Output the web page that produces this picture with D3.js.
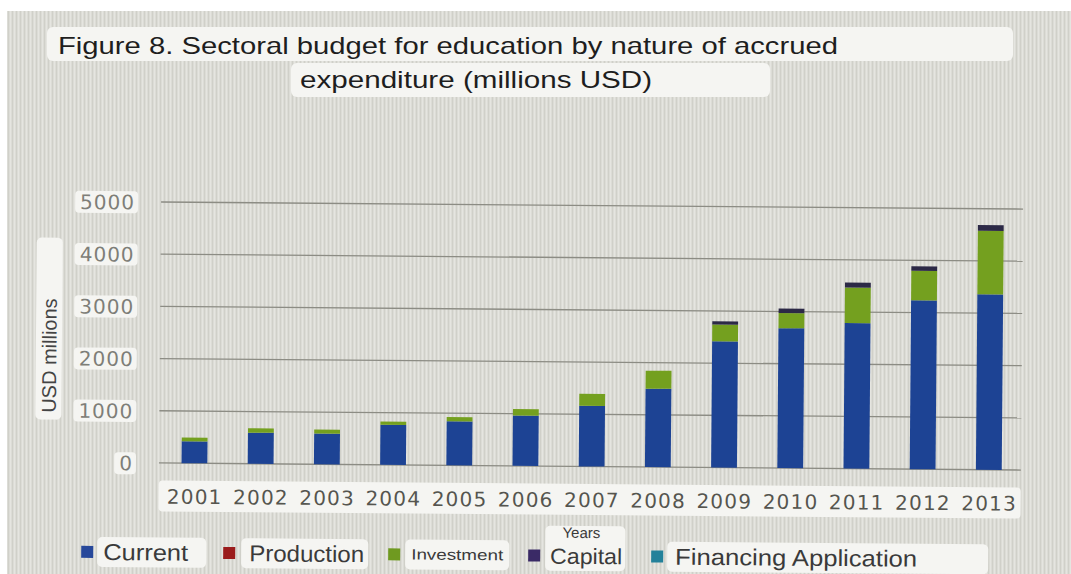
<!DOCTYPE html>
<html>
<head>
<meta charset="utf-8">
<script src="https://cdn.jsdelivr.net/npm/d3@7"></script>
<style>
  html, body { margin: 0; padding: 0; background: #ffffff; }
  svg { display: block; }
</style>
</head>
<body>
<svg id="chart" width="1071" height="574"></svg>
<script>
// Sectoral education budget by nature of accrued expenditure, USD millions
const years = ["2001","2002","2003","2004","2005","2006","2007","2008","2009","2010","2011","2012","2013"];
const current    = [420, 595, 590, 765, 845, 965, 1160, 1500, 2420, 2680, 2790, 3235, 3360];
const production = [0, 0, 0, 0, 0, 0, 0, 0, 0, 0, 0, 0, 0];
const investment = [70, 85, 75, 65, 80, 125, 230, 345, 320, 290, 680, 565, 1215];
const capital    = [0, 0, 0, 0, 0, 0, 0, 0, 60, 85, 95, 85, 110];
const financing  = [0, 0, 0, 0, 0, 0, 0, 0, 0, 0, 0, 0, 0];
const seriesNames = ["Current", "Production", "Investment", "Capital", "Financing Application"];
const yTicks = [0, 1000, 2000, 3000, 4000, 5000];
const titleLines = ["Figure 8. Sectoral budget for education by nature of accrued", "expenditure (millions USD)"];

const barColors = {
  "Current": "#1d4394",
  "Production": "#9c1d1f",
  "Investment": "#74a01f",
  "Capital": "#2c2946",
  "Financing Application": "#25839b"
};
const keyColors = {
  "Current": "#27489a",
  "Production": "#9b1c1c",
  "Investment": "#6f9a20",
  "Capital": "#3a2a66",
  "Financing Application": "#23819a"
};

const rows = years.map((yr, i) => ({
  year: yr,
  "Current": current[i],
  "Production": production[i],
  "Investment": investment[i],
  "Capital": capital[i],
  "Financing Application": financing[i]
}));

const svg = d3.select("#chart");
const boxFill = "#f5f5f2";

// screen-like backdrop with fine vertical striping
const defs = svg.append("defs");
const pat = defs.append("pattern").attr("id", "stripes")
  .attr("patternUnits", "userSpaceOnUse").attr("width", 4).attr("height", 10);
pat.append("rect").attr("x", 0).attr("y", 0).attr("width", 1).attr("height", 10)
  .attr("fill", "#b9b9b1").attr("opacity", 0.35);
pat.append("rect").attr("x", 2).attr("y", 0).attr("width", 1).attr("height", 10)
  .attr("fill", "#ffffff").attr("opacity", 0.25);

svg.append("rect").attr("x", 7).attr("y", 11).attr("width", 1064).attr("height", 563).attr("fill", "#dcdcd6");
svg.append("rect").attr("x", 7).attr("y", 11).attr("width", 1064).attr("height", 563).attr("fill", "url(#stripes)");

// title, each line on its own light box
const titleG = svg.append("g");
titleG.append("rect").attr("x", 47).attr("y", 27).attr("width", 966).attr("height", 34).attr("rx", 6).attr("fill", boxFill);
titleG.append("rect").attr("x", 291).attr("y", 63).attr("width", 479).attr("height", 34).attr("rx", 6).attr("fill", boxFill);
titleG.append("text").attr("x", 58).attr("y", 53.5).text(titleLines[0])
  .attr("font-family", "Liberation Sans, Arial, sans-serif").attr("font-size", 24).attr("fill", "#1e1e1e")
  .attr("textLength", 780).attr("lengthAdjust", "spacingAndGlyphs");
titleG.append("text").attr("x", 300).attr("y", 88).text(titleLines[1])
  .attr("font-family", "Liberation Sans, Arial, sans-serif").attr("font-size", 24).attr("fill", "#1e1e1e")
  .attr("textLength", 352).attr("lengthAdjust", "spacingAndGlyphs");

// plot body, slightly tilted like the photographed screen
const g = svg.append("g").attr("transform", "rotate(0.47 590 335)");

const x = d3.scaleBand().domain(years).range([162.4, 1023]).paddingInner(0.61).paddingOuter(0.305);
const y = d3.scaleLinear().domain([0, 5000]).range([466.5, 205.5]);

// gridlines
g.append("g").selectAll("line").data(yTicks).join("line")
  .attr("x1", 160).attr("x2", 1022)
  .attr("y1", d => y(d)).attr("y2", d => y(d))
  .attr("stroke", "#8c8c84").attr("stroke-width", 1.3);

// stacked bars
const stack = d3.stack().keys(seriesNames)(rows);
g.append("g").selectAll("g").data(stack).join("g")
  .attr("fill", d => barColors[d.key])
  .selectAll("rect").data(d => d).join("rect")
  .attr("x", d => x(d.data.year))
  .attr("width", x.bandwidth())
  .attr("y", d => y(d[1]))
  .attr("height", d => Math.max(0, y(d[0]) - y(d[1])));

// y axis labels on small boxes
const yAxis = g.append("g").attr("transform", "translate(134,0)")
  .call(d3.axisLeft(y).tickValues(yTicks).tickSize(0).tickPadding(0).tickFormat(d3.format("d")));
yAxis.select(".domain").remove();
yAxis.selectAll("text")
  .attr("font-family", "DejaVu Sans, sans-serif").attr("font-size", 20)
  .attr("letter-spacing", "1px").attr("fill", "#7e7e78").attr("dy", "0.36em");
yAxis.selectAll(".tick").each(function() {
  const t = d3.select(this).select("text");
  const b = t.node().getBBox();
  d3.select(this).insert("rect", "text")
    .attr("x", b.x - 5).attr("y", -11).attr("width", b.width + 8).attr("height", 22)
    .attr("rx", 4).attr("fill", boxFill);
});

// y axis title
g.append("rect").attr("x", 36).attr("y", 242).attr("width", 26).attr("height", 182).attr("rx", 5).attr("fill", boxFill);
g.append("text").attr("transform", "translate(56.5,360) rotate(-90)")
  .attr("text-anchor", "middle").attr("font-family", "Liberation Sans, Arial, sans-serif")
  .attr("font-size", 20).attr("fill", "#444").text("USD millions");

// x axis labels on one long box
g.append("rect").attr("x", 160).attr("y", 484).attr("width", 862).attr("height", 31).attr("rx", 4).attr("fill", boxFill);
const xAxis = g.append("g").attr("transform", "translate(0,500)")
  .call(d3.axisBottom(x).tickSize(0).tickPadding(0));
xAxis.select(".domain").remove();
xAxis.selectAll("text")
  .attr("font-family", "DejaVu Sans, sans-serif").attr("font-size", 20)
  .attr("letter-spacing", "1.2px").attr("fill", "#55554f").attr("dy", "0.36em").attr("dx", "0.6px");

// legend
const legendItems = [
  { name: "Current",               sq: 83,  tx: 105, len: 85,  bx: 99,  bw: 109, fs: 23 },
  { name: "Production",            sq: 225, tx: 251, len: 115, bx: 243, bw: 127, fs: 23 },
  { name: "Investment",            sq: 390, tx: 413, len: 92,  bx: 407, bw: 104, fs: 15 },
  { name: "Capital",               sq: 530, tx: 552, len: 72,  bx: 547, bw: 80,  fs: 22 },
  { name: "Financing Application", sq: 653, tx: 677, len: 242, bx: 669, bw: 321, fs: 23 }
];
const lg = g.append("g");
const legendY = 556;
lg.selectAll("rect.box").data(legendItems).join("rect").attr("class", "box")
  .attr("x", d => d.bx).attr("y", d => d.name === "Capital" ? legendY - 30 : legendY - 15)
  .attr("width", d => d.bw).attr("height", d => d.name === "Capital" ? 45 : 30)
  .attr("rx", 5).attr("fill", boxFill);
lg.selectAll("rect.key").data(legendItems).join("rect").attr("class", "key")
  .attr("x", d => d.sq).attr("y", legendY - 6).attr("width", 12).attr("height", 12)
  .attr("fill", d => keyColors[d.name]);
lg.selectAll("text.lab").data(legendItems).join("text").attr("class", "lab")
  .attr("x", d => d.tx).attr("y", d => legendY + (d.fs > 20 ? 8 : 5))
  .attr("font-family", "Liberation Sans, Arial, sans-serif")
  .attr("font-size", d => d.fs).attr("fill", "#3a3a3a")
  .attr("textLength", d => d.len).attr("lengthAdjust", "spacingAndGlyphs")
  .text(d => d.name);

// x axis title sitting above the Capital key
lg.append("text").attr("x", 583).attr("y", legendY - 18).attr("text-anchor", "middle")
  .attr("font-family", "Liberation Sans, Arial, sans-serif").attr("font-size", 15)
  .attr("fill", "#3a3a3a").text("Years");
</script>
</body>
</html>
